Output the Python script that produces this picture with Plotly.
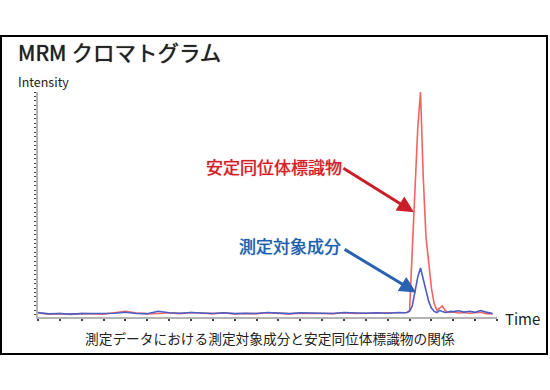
import plotly.graph_objects as go

# ---- data (time in arbitrary units, intensity in % of internal standard peak) ----
time = [0, 0.5, 1, 1.5, 2, 2.5, 3, 3.5, 4, 4.5, 5, 5.5, 6, 6.5, 7, 7.5, 8, 8.5, 9, 9.5,
        10, 10.5, 11, 11.5, 12, 12.5, 13, 13.5, 14, 14.5, 15, 15.5, 16, 16.5,
        16.625, 16.75, 16.875, 17.0, 17.125, 17.25, 17.375, 17.5, 17.625, 17.75, 17.875,
        18.0, 18.125, 18.25, 18.375, 18.5, 18.625, 18.75, 18.875, 19.0,
        19.25, 19.5, 19.75, 20.0, 20.25, 20.5, 20.8]

labeled = [0.8, 0.3, 0.5, 0.2, 0.6, 0.4, 0.3, 0.9, 1.6, 0.8, 0.4, 0.6, 0.9, 0.5, 1.0, 0.7,
           0.5, 0.8, 0.4, 0.6, 0.5, 0.9, 0.6, 0.4, 0.7, 0.8, 0.6, 0.5, 0.9, 0.6, 0.7, 0.8,
           0.6, 0.9,
           0.7, 0.8, 1.0, 2.0, 30, 62, 84, 100, 62, 35, 22,
           12, 5, 2.0, 3.0, 4.0, 2.0, 1.2, 1.0, 1.3,
           0.8, 1.0, 0.7, 0.9, 1.1, 0.5, 0.4]

analyte = [1.0, 0.4, 0.6, 0.3, 0.5, 0.6, 0.4, 0.7, 1.1, 0.6, 0.5, 1.6, 0.9, 0.7, 1.0, 0.8,
           0.6, 0.9, 0.5, 0.7, 0.6, 1.0, 0.7, 0.5, 0.9, 0.8, 0.7, 0.6, 1.0, 0.8, 0.7, 0.9,
           0.7, 1.0,
           0.8, 0.9, 1.0, 1.5, 4, 10, 17, 21, 16, 11, 6,
           3, 1.5, 1.0, 2.0, 1.5, 1.0, 1.2, 1.6, 1.4,
           1.8, 1.2, 1.6, 1.1, 1.9, 1.2, 0.6]

title_text = "MRM クロマトグラム"
y_label = "Intensity"
x_label = "Time"
caption = "測定データにおける測定対象成分と安定同位体標識物の関係"
label_is = "安定同位体標識物"
label_an = "測定対象成分"

# ---- layout helpers ----
W, H = 550, 390
L, R, T, B = 38, 497, 92, 317
def px(x):
    return (x - L) / (R - L)
def py(y):
    return (B - y) / (B - T)

FONT = "Noto Sans CJK JP, Noto Sans, sans-serif"
RED_TXT = "#d41f2a"
BLUE_TXT = "#1f5fae"

fig = go.Figure()
fig.add_trace(go.Scatter(x=time, y=labeled, mode="lines",
                         line=dict(color="#f26464", width=1.6), hoverinfo="skip"))
fig.add_trace(go.Scatter(x=time, y=analyte, mode="lines",
                         line=dict(color="#4b5fc4", width=1.6), hoverinfo="skip"))

fig.update_layout(
    width=W, height=H,
    margin=dict(l=L, r=W - R, t=T, b=H - B),
    paper_bgcolor="white", plot_bgcolor="white",
    showlegend=False,
    font=dict(family=FONT, color="#222"),
    xaxis=dict(range=[0, 21], showgrid=False, zeroline=False, showticklabels=False,
               showline=True, linecolor="#b4b4b4", linewidth=2,
               ticks="outside", ticklen=2, tickwidth=1.5, tickcolor="#444", dtick=1),
    yaxis=dict(range=[-1, 100], showgrid=False, zeroline=False, showticklabels=False,
               showline=True, linecolor="#b4b4b4", linewidth=2,
               ticks="outside", ticklen=2, tickwidth=1, tickcolor="#444", dtick=2),
)

# outer frame
fig.add_shape(type="rect", xref="paper", yref="paper",
              x0=px(1), x1=px(547), y0=py(354), y1=py(36),
              line=dict(color="black", width=2), layer="below")

def txt(text, x, y, size, color="#222", xanchor="left", blur=0.0):
    f = dict(size=size, color=color, family=FONT)
    if blur:
        f["shadow"] = f"0 0 {blur}px {color}"
    fig.add_annotation(text=text, xref="paper", yref="paper", x=px(x), y=py(y),
                       xanchor=xanchor, yanchor="middle", showarrow=False, font=f)

txt(title_text, 16, 52, 21.5, blur=1)
txt(y_label, 16, 82, 12.5)
txt(x_label, 503, 318, 15)
txt(caption, 270, 338, 13.7, xanchor="center")
txt(label_is, 204, 166, 17, color=RED_TXT, blur=1)
txt(label_an, 237, 245, 17, color=BLUE_TXT, blur=1)

# arrows (tips at peak flanks, in data coordinates)
fig.add_annotation(x=17.2, y=46, xref="x", yref="y", ax=-72, ay=-45,
                   showarrow=True, arrowhead=2, arrowsize=1.1, arrowwidth=3,
                   arrowcolor="#cc1e28", text="")
fig.add_annotation(x=17.3, y=10, xref="x", yref="y", ax=-73, ay=-44,
                   showarrow=True, arrowhead=2, arrowsize=1.1, arrowwidth=3,
                   arrowcolor="#2b62b0", text="")

fig.write_html("out.html", config={"displayModeBar": False},
               post_script="document.body.style.margin='0';")
